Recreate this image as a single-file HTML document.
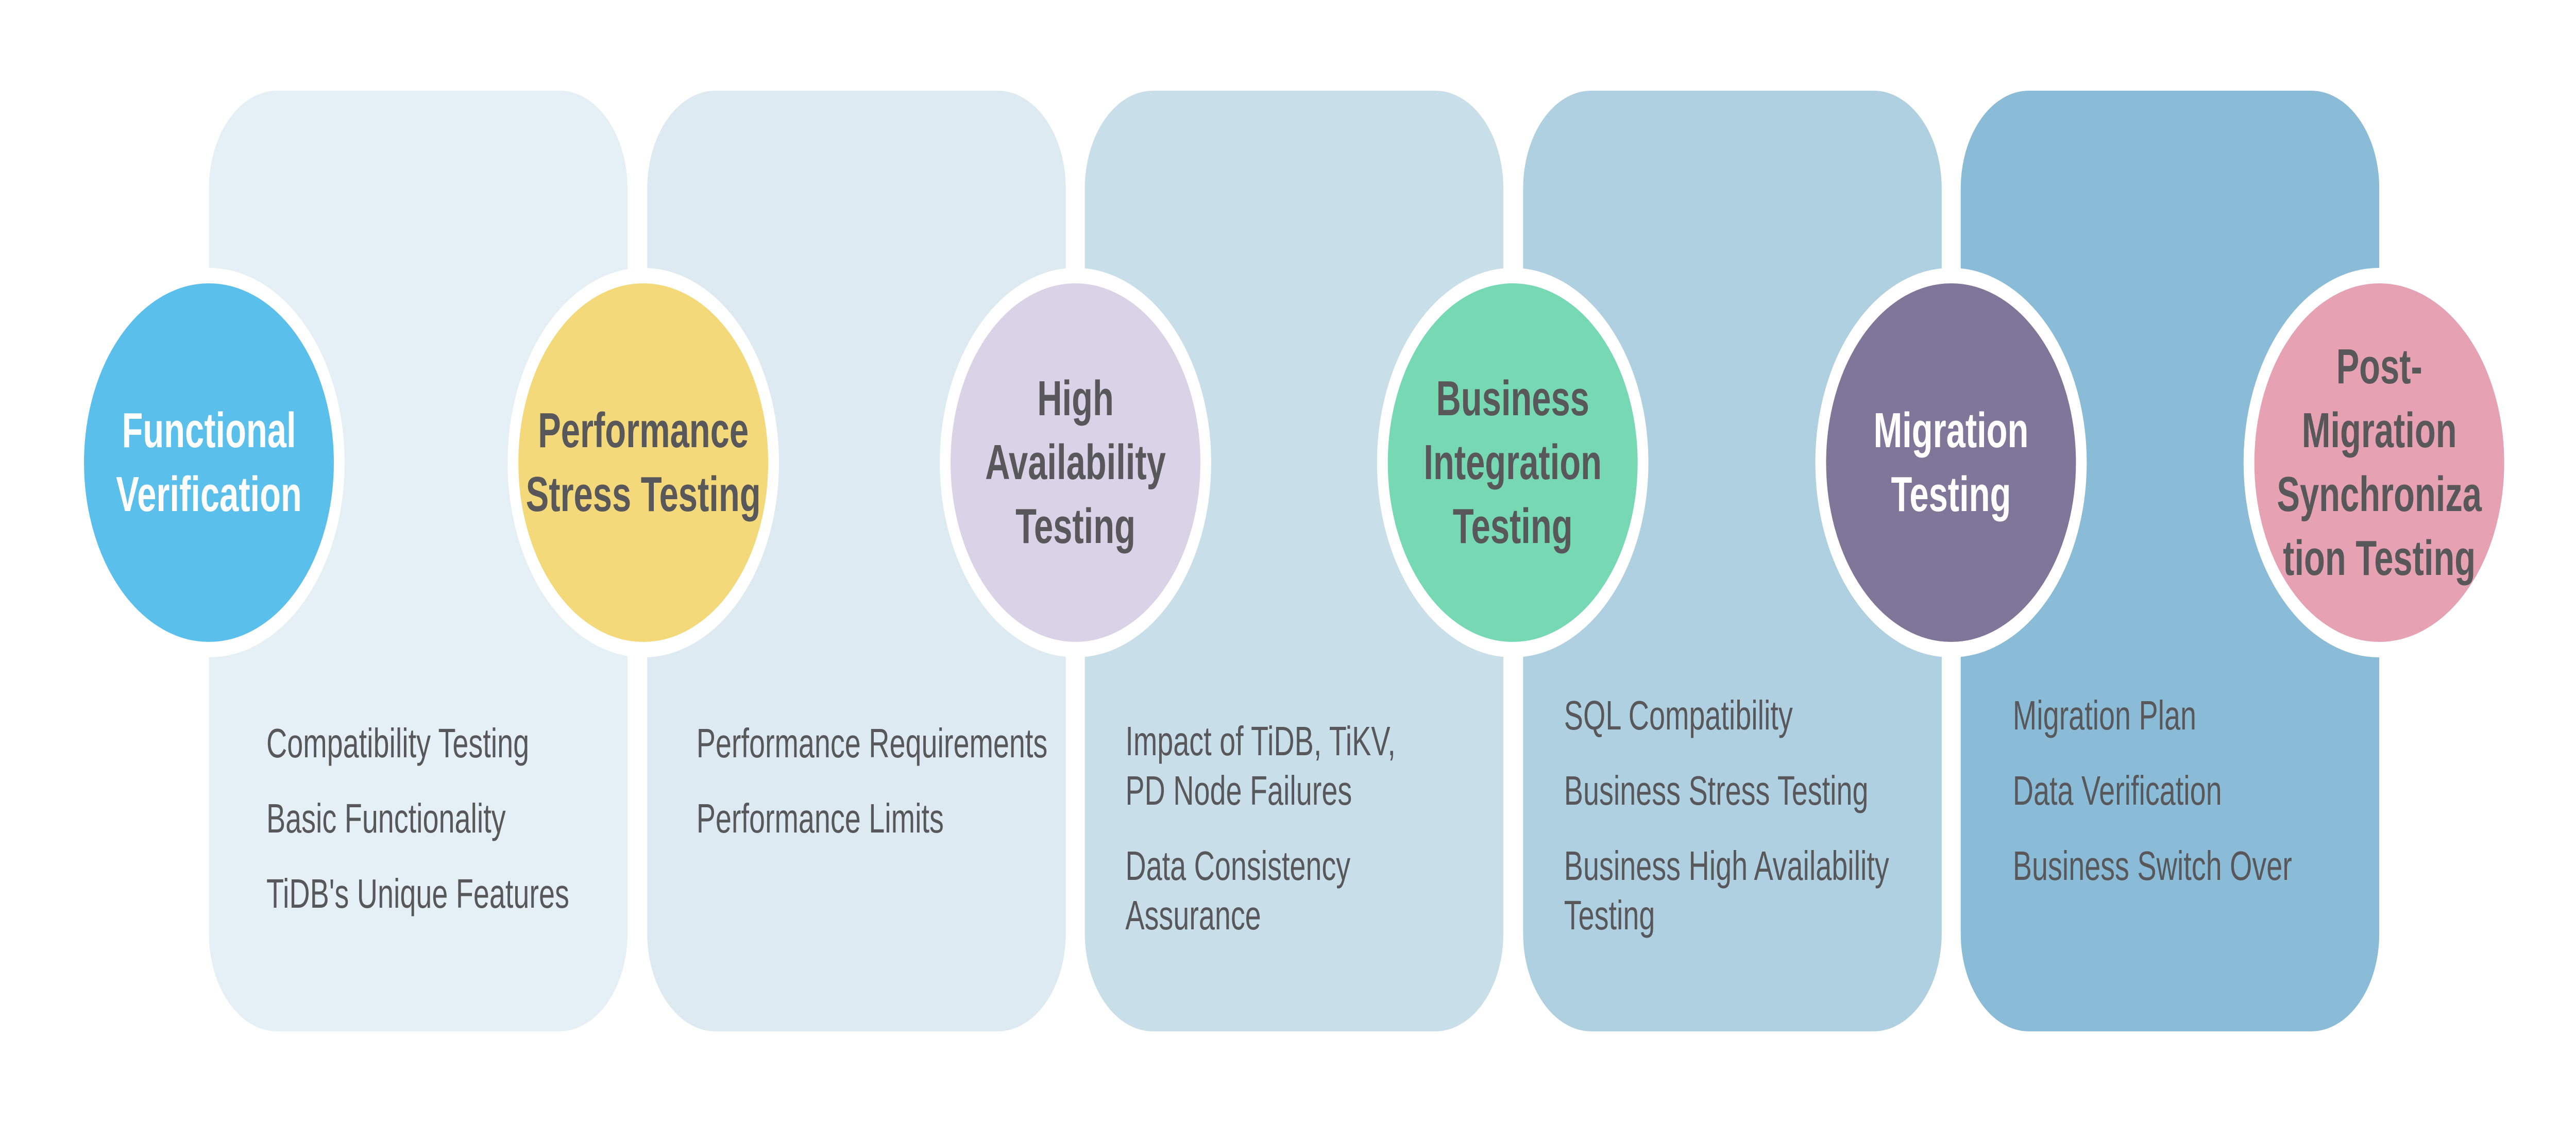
<!DOCTYPE html>
<html><head><meta charset="utf-8"><style>
html,body{margin:0;padding:0;background:#fff;width:100%;height:100%;overflow:hidden;}
svg{display:block;width:100vw;height:100vh;}
text{font-family:"Liberation Sans",Arial,sans-serif;}
.h{font-weight:bold;font-size:96px;fill:#58585a;text-anchor:middle;}
.w{fill:#fff;}
.l{font-size:80px;fill:#58585a;}
</style></head><body>
<svg viewBox="0 0 7176 2176" preserveAspectRatio="none" xmlns="http://www.w3.org/2000/svg">
<rect x="582" y="176" width="1166" height="1826" rx="190" fill="#e4eff6"/>
<rect x="1803" y="176" width="1166" height="1826" rx="190" fill="#ddeaf2"/>
<rect x="3022" y="176" width="1166" height="1826" rx="190" fill="#c8dfe9"/>
<rect x="4243" y="176" width="1166" height="1826" rx="190" fill="#afd0e0"/>
<rect x="5462" y="176" width="1166" height="1826" rx="190" fill="#8abcd8"/>

<g stroke="#fff" stroke-width="30">
<circle cx="582" cy="898" r="363" fill="#5bbfec"/>
<circle cx="1792" cy="898" r="363" fill="#f3d97a"/>
<circle cx="2996" cy="898" r="363" fill="#d9d3e7"/>
<circle cx="4214" cy="898" r="363" fill="#76d9b3"/>
<circle cx="5435" cy="898" r="363" fill="#7f7799"/>
<circle cx="6628" cy="898" r="363" fill="#e6a1b2"/>
</g>

<text class="h w" x="582"><tspan x="582" y="868">Functional</tspan><tspan x="582" y="992">Verification</tspan></text>
<text class="h"><tspan x="1792" y="868">Performance</tspan><tspan x="1792" y="992">Stress Testing</tspan></text>
<text class="h"><tspan x="2996" y="806">High</tspan><tspan x="2996" y="930">Availability</tspan><tspan x="2996" y="1054">Testing</tspan></text>
<text class="h"><tspan x="4214" y="806">Business</tspan><tspan x="4214" y="930">Integration</tspan><tspan x="4214" y="1054">Testing</tspan></text>
<text class="h w"><tspan x="5435" y="868">Migration</tspan><tspan x="5435" y="992">Testing</tspan></text>
<text class="h"><tspan x="6628" y="744">Post-</tspan><tspan x="6628" y="868">Migration</tspan><tspan x="6628" y="992">Synchroniza</tspan><tspan x="6628" y="1116">tion Testing</tspan></text>

<text class="l"><tspan x="742" y="1470">Compatibility Testing</tspan><tspan x="742" y="1616">Basic Functionality</tspan><tspan x="742" y="1762">TiDB's Unique Features</tspan></text>
<text class="l"><tspan x="1940" y="1470">Performance Requirements</tspan><tspan x="1940" y="1616">Performance Limits</tspan></text>
<text class="l"><tspan x="3135" y="1466">Impact of TiDB, TiKV,</tspan><tspan x="3135" y="1562">PD Node Failures</tspan><tspan x="3135" y="1708">Data Consistency</tspan><tspan x="3135" y="1804">Assurance</tspan></text>
<text class="l"><tspan x="4357" y="1416">SQL Compatibility</tspan><tspan x="4357" y="1562">Business Stress Testing</tspan><tspan x="4357" y="1708">Business High Availability</tspan><tspan x="4357" y="1804">Testing</tspan></text>
<text class="l"><tspan x="5607" y="1416">Migration Plan</tspan><tspan x="5607" y="1562">Data Verification</tspan><tspan x="5607" y="1708">Business Switch Over</tspan></text>
</svg>
</body></html>
